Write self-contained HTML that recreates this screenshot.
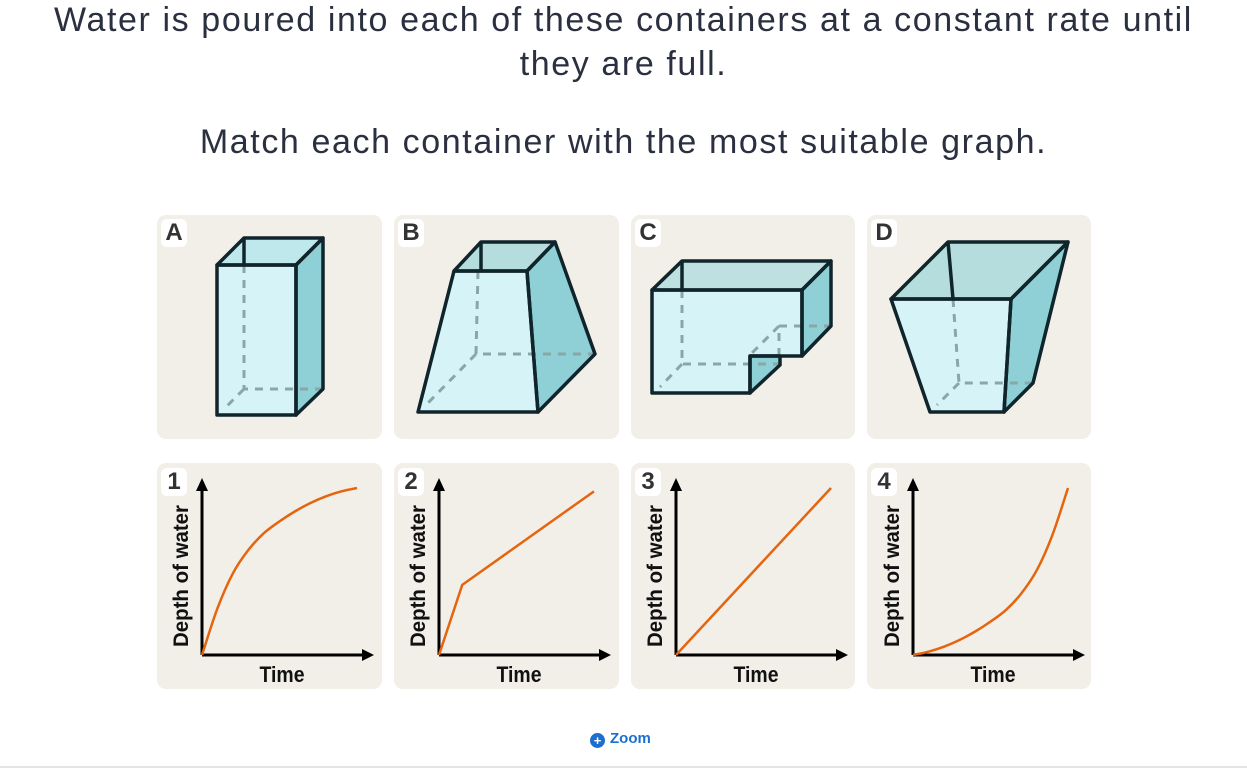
<!DOCTYPE html>
<html><head><meta charset="utf-8"><style>
body{margin:0;width:1247px;height:768px;background:#fff;overflow:hidden;position:relative;font-family:"Liberation Sans",sans-serif;}
.t{position:absolute;left:0;width:1247px;text-align:center;color:#2b3040;font-size:34px;letter-spacing:1.6px;}
.card{position:absolute;background:#f2efe9;border-radius:9px;}
.lbl{position:absolute;background:#fff;border-radius:6px;width:26px;height:28px;font-family:"Liberation Sans Narrow","Liberation Sans",sans-serif;font-weight:bold;font-size:24px;color:#333;text-align:center;line-height:28px;}
svg{position:absolute;left:0;top:0;}
</style></head><body>
<div class="t" style="top:1px">Water is poured into each of these containers at a constant rate until</div>
<div class="t" style="top:45px">they are full.</div>
<div class="t" style="top:123px">Match each container with the most suitable graph.</div>

<div class="card" style="left:157px;top:215px;width:225px;height:224px"><div class="lbl" style="left:4px;top:4px">A</div></div>
<div class="card" style="left:394px;top:215px;width:225px;height:224px"><div class="lbl" style="left:4px;top:4px">B</div></div>
<div class="card" style="left:631px;top:215px;width:224px;height:224px"><div class="lbl" style="left:4px;top:4px">C</div></div>
<div class="card" style="left:867px;top:215px;width:224px;height:224px"><div class="lbl" style="left:4px;top:4px">D</div></div>
<div class="card" style="left:157px;top:463px;width:225px;height:226px"><div class="lbl" style="left:4px;top:5px">1</div></div>
<div class="card" style="left:394px;top:463px;width:225px;height:226px"><div class="lbl" style="left:4px;top:5px">2</div></div>
<div class="card" style="left:631px;top:463px;width:224px;height:226px"><div class="lbl" style="left:4px;top:5px">3</div></div>
<div class="card" style="left:867px;top:463px;width:224px;height:226px"><div class="lbl" style="left:4px;top:5px">4</div></div>

<svg width="1247" height="768">
<g stroke="none">
<polygon points="217,265 244,238 323,238 296,265" fill="#bfe8ec"/>
<polygon points="217,265 296,265 296,415 217,415" fill="#d6f4f7"/>
<polygon points="296,265 323,238 323,389 296,415" fill="#8fd0d6"/>
<polygon points="454,271 481,242 555,242 527,271" fill="#b6dddd"/>
<polygon points="454,271 527,271 538,412 418,412" fill="#d6f4f7"/>
<polygon points="527,271 555,242 595,354 538,412" fill="#8fd0d6"/>
<polygon points="652,290 682,261 831,261 802,290" fill="#bfe0e0"/>
<polygon points="652,290 802,290 802,356 750,356 750,393 652,393" fill="#d6f4f7"/>
<polygon points="802,290 831,261 831,326 802,356" fill="#8fd0d6"/>
<polygon points="750,356 780,356 780,365 750,393" fill="#8fd0d6"/>
<polygon points="891,299 948,242 1068,242 1011,299" fill="#b6dddd"/>
<polygon points="891,299 1011,299 1004,412 930,412" fill="#d6f4f7"/>
<polygon points="1011,299 1068,242 1033,383 1004,412" fill="#8fd0d6"/>
</g>
<g stroke="#8aa6a7" stroke-width="3" stroke-dasharray="8,7" fill="none">
<path d="M244 265V389H323M244 389L225 408"/>
<path d="M478 271L476 354H595M476 354L425 406"/>
<path d="M682 290V364H779M682 364L660 387M779 356V326H831M779 326L750 355"/>
<path d="M953 299L959 383H1033M959 383L937 405"/>
</g>
<g stroke="#10252b" stroke-width="3.5" stroke-linejoin="round" fill="none">
<polygon points="217,265 244,238 323,238 296,265"/>
<polygon points="217,265 296,265 296,415 217,415"/>
<polygon points="296,265 323,238 323,389 296,415"/>
<line x1="244" y1="238" x2="244" y2="265"/>
<polygon points="454,271 481,242 555,242 527,271"/>
<polygon points="454,271 527,271 538,412 418,412"/>
<polygon points="527,271 555,242 595,354 538,412"/>
<line x1="481" y1="242" x2="481" y2="271"/>
<polygon points="652,290 682,261 831,261 802,290"/>
<polygon points="652,290 802,290 802,356 750,356 750,393 652,393"/>
<polygon points="802,290 831,261 831,326 802,356"/>
<polygon points="750,356 780,356 780,365 750,393"/>
<line x1="682" y1="261" x2="682" y2="290"/>
<polygon points="891,299 948,242 1068,242 1011,299"/>
<polygon points="891,299 1011,299 1004,412 930,412"/>
<polygon points="1011,299 1068,242 1033,383 1004,412"/>
<line x1="948" y1="242" x2="953" y2="299"/>
</g>
</svg>
<svg id="graphs" width="1247" height="768"></svg>

<div style="position:absolute;left:590px;top:730px;color:#1a6fd1;font-weight:bold;font-size:15px;">
<span style="display:inline-block;width:15px;height:15px;border-radius:50%;background:#1a6fd1;color:#fff;font-size:13px;line-height:15px;text-align:center;vertical-align:-2px;margin-right:5px">+</span>Zoom</div>
<div style="position:absolute;left:0;top:766px;width:1247px;height:2px;background:#e4e4e4"></div>

<script>
const xs10 = [0,0.1,0.2,0.3,0.4,0.5,0.6,0.7,0.8,0.9,1];
const g1Y = [0,0.28,0.49,0.63,0.73,0.8,0.86,0.91,0.95,0.98,1];
const g2X = [0,0.15,1];
const g2Y = [0,0.42,0.98];
const g3X = [0,1];
const g3Y = [0,1];
const g4Y = [0,0.02,0.05,0.09,0.14,0.2,0.27,0.37,0.51,0.72,1];
const origins = [[202,655],[439,655],[676,655],[913,655]];
const series = [[xs10,g1Y],[g2X,g2Y],[g3X,g3Y],[xs10,g4Y]];
const NS="http://www.w3.org/2000/svg";
const svg=document.getElementById('graphs');
function sx(o,v){return o[0]+v*155;}
function sy(o,v){return o[1]-v*167;}
function mk(tag,attrs){const e=document.createElementNS(NS,tag);for(const k in attrs)e.setAttribute(k,attrs[k]);svg.appendChild(e);return e;}
origins.forEach((o,i)=>{
  const ax=mk('path',{d:`M${o[0]} ${o[1]}V${o[1]-170}M${o[0]} ${o[1]}H${o[0]+163}`,stroke:'#000','stroke-width':3,fill:'none'});
  
  
  const ah=mk('path',{d:`M${o[0]-6} ${o[1]-164}L${o[0]} ${o[1]-177}L${o[0]+6} ${o[1]-164}Z M${o[0]+160} ${o[1]-6}L${o[0]+172} ${o[1]}L${o[0]+160} ${o[1]+6}Z`,fill:'#000'});
  
  
  const [X,Y]=series[i];
  let d='';
  if(X.length>3){
    const p=X.map((x,j)=>[sx(o,x),sy(o,Y[j])]);
    d=`M${p[0][0]} ${p[0][1]}`;
    for(let j=0;j<p.length-1;j++){
      const p0=p[Math.max(j-1,0)],p1=p[j],p2=p[j+1],p3=p[Math.min(j+2,p.length-1)];
      d+=`C${p1[0]+(p2[0]-p0[0])/6} ${p1[1]+(p2[1]-p0[1])/6} ${p2[0]-(p3[0]-p1[0])/6} ${p2[1]-(p3[1]-p1[1])/6} ${p2[0]} ${p2[1]}`;
    }
  } else {
    d=X.map((x,j)=>(j?'L':'M')+sx(o,x)+' '+sy(o,Y[j])).join('');
  }
  const ln=mk('path',{d,stroke:'#e5650f','stroke-width':2.5,fill:'none'});
  
  
  const yt=mk('text',{x:0,y:0,transform:`translate(${o[0]-14},${o[1]-79}) rotate(-90)`,'text-anchor':'middle','font-family':'Liberation Sans Narrow, Liberation Sans, sans-serif','font-weight':'bold','font-size':21,fill:'#111',textLength:142,lengthAdjust:'spacingAndGlyphs'});
  yt.textContent='Depth of water';
  
  
  const xt=mk('text',{x:o[0]+80,y:o[1]+27,'text-anchor':'middle','font-family':'Liberation Sans Narrow, Liberation Sans, sans-serif','font-weight':'bold','font-size':22,fill:'#111',textLength:45,lengthAdjust:'spacingAndGlyphs'});
  xt.textContent='Time';
  
  
});
</script>
</body></html>
